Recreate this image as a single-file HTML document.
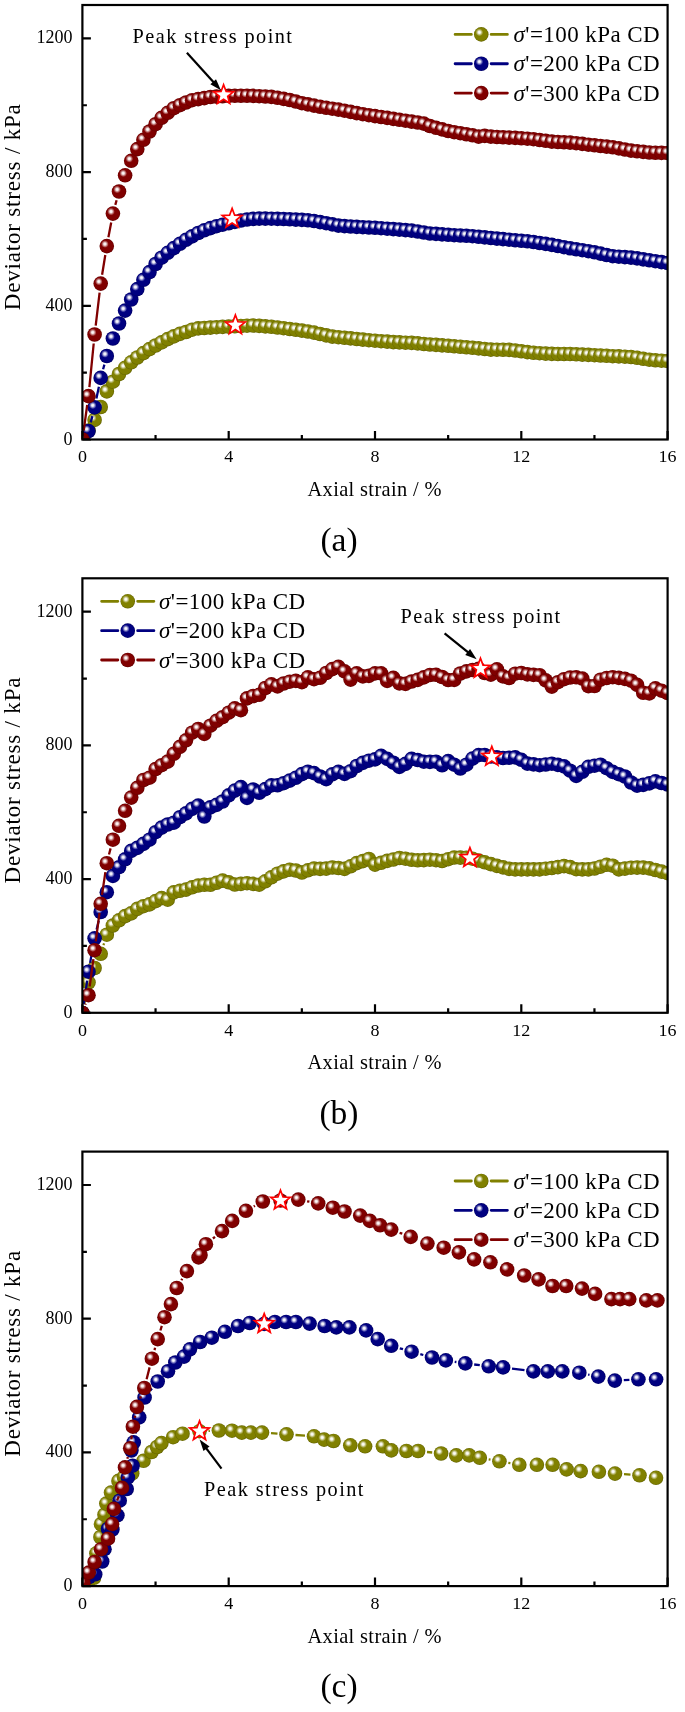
<!DOCTYPE html><html><head><meta charset="utf-8"><style>html,body{margin:0;padding:0;background:#fff;}svg{display:block;will-change:transform}text{font-family:"Liberation Serif",serif;fill:#000}</style></head><body>
<svg width="685" height="1712" viewBox="0 0 685 1712">
<defs>
<radialGradient id="go" cx="0.5" cy="0.5" r="0.5" fx="0.37" fy="0.36"><stop offset="0" stop-color="#a0a030"/><stop offset="0.45" stop-color="#808000"/><stop offset="0.85" stop-color="#808000"/><stop offset="1" stop-color="#626200"/></radialGradient>
<radialGradient id="gb" cx="0.5" cy="0.5" r="0.5" fx="0.37" fy="0.36"><stop offset="0" stop-color="#2a2aa8"/><stop offset="0.45" stop-color="#000080"/><stop offset="0.85" stop-color="#000080"/><stop offset="1" stop-color="#000062"/></radialGradient>
<radialGradient id="gr" cx="0.5" cy="0.5" r="0.5" fx="0.37" fy="0.36"><stop offset="0" stop-color="#a82a2a"/><stop offset="0.45" stop-color="#800000"/><stop offset="0.85" stop-color="#800000"/><stop offset="1" stop-color="#620000"/></radialGradient>
<radialGradient id="hl" cx="0.5" cy="0.5" r="0.5"><stop offset="0" stop-color="#fff" stop-opacity="1"/><stop offset="0.3" stop-color="#fff" stop-opacity="0.9"/><stop offset="0.65" stop-color="#fff" stop-opacity="0.4"/><stop offset="1" stop-color="#fff" stop-opacity="0"/></radialGradient>
<g id="so"><circle r="7.3" fill="url(#go)"/><circle cx="-1.9" cy="-2.1" r="3.8" fill="url(#hl)"/></g>
<g id="sb"><circle r="7.3" fill="url(#gb)"/><circle cx="-1.9" cy="-2.1" r="3.8" fill="url(#hl)"/></g>
<g id="sr"><circle r="7.3" fill="url(#gr)"/><circle cx="-1.9" cy="-2.1" r="3.8" fill="url(#hl)"/></g>
<clipPath id="c0"><rect x="82.4" y="5.0" width="585.2" height="434.5"/></clipPath>
<clipPath id="c1"><rect x="82.4" y="578.3" width="585.2" height="434.5"/></clipPath>
<clipPath id="c2"><rect x="82.4" y="1151.6" width="585.2" height="434.5"/></clipPath>
</defs>
<g clip-path="url(#c0)">
<use href="#so" x="82.4" y="439.5"/>
<use href="#so" x="88.5" y="430.5"/>
<use href="#so" x="94.6" y="419.9"/>
<use href="#so" x="100.7" y="407"/>
<use href="#so" x="106.8" y="391.4"/>
<use href="#so" x="112.9" y="381.7"/>
<use href="#so" x="119" y="374"/>
<use href="#so" x="125.1" y="367.8"/>
<use href="#so" x="131.2" y="362.3"/>
<use href="#so" x="137.3" y="357.5"/>
<use href="#so" x="143.4" y="353.1"/>
<use href="#so" x="149.5" y="349.1"/>
<use href="#so" x="155.6" y="345.5"/>
<use href="#so" x="161.6" y="342.4"/>
<use href="#so" x="167.7" y="339.1"/>
<use href="#so" x="173.8" y="336.4"/>
<use href="#so" x="179.9" y="333.9"/>
<use href="#so" x="186" y="332"/>
<use href="#so" x="192.1" y="329.7"/>
<use href="#so" x="198.2" y="328.4"/>
<use href="#so" x="204.3" y="328"/>
<use href="#so" x="210.4" y="327.6"/>
<use href="#so" x="216.5" y="327.2"/>
<use href="#so" x="222.6" y="326.9"/>
<use href="#so" x="228.7" y="326.6"/>
<use href="#so" x="234.8" y="326.3"/>
<use href="#so" x="240.9" y="326"/>
<use href="#so" x="247" y="325.7"/>
<use href="#so" x="253.1" y="325.5"/>
<use href="#so" x="259.2" y="325.9"/>
<use href="#so" x="265.3" y="326.4"/>
<use href="#so" x="271.4" y="326.8"/>
<use href="#so" x="277.5" y="327.5"/>
<use href="#so" x="283.6" y="328.2"/>
<use href="#so" x="289.7" y="329"/>
<use href="#so" x="295.8" y="329.8"/>
<use href="#so" x="301.9" y="330.6"/>
<use href="#so" x="307.9" y="331.5"/>
<use href="#so" x="314" y="332.6"/>
<use href="#so" x="320.1" y="334"/>
<use href="#so" x="326.2" y="335.4"/>
<use href="#so" x="332.3" y="336.6"/>
<use href="#so" x="338.4" y="337.2"/>
<use href="#so" x="344.5" y="337.8"/>
<use href="#so" x="350.6" y="338.4"/>
<use href="#so" x="356.7" y="339"/>
<use href="#so" x="362.8" y="339.6"/>
<use href="#so" x="368.9" y="340.2"/>
<use href="#so" x="375" y="340.7"/>
<use href="#so" x="381.1" y="341.2"/>
<use href="#so" x="387.2" y="341.6"/>
<use href="#so" x="393.3" y="342.1"/>
<use href="#so" x="399.4" y="342.4"/>
<use href="#so" x="405.5" y="342.7"/>
<use href="#so" x="411.6" y="342.9"/>
<use href="#so" x="417.7" y="343.4"/>
<use href="#so" x="423.8" y="344"/>
<use href="#so" x="429.9" y="344.5"/>
<use href="#so" x="436" y="344.9"/>
<use href="#so" x="442.1" y="345.4"/>
<use href="#so" x="448.2" y="345.8"/>
<use href="#so" x="454.2" y="346.3"/>
<use href="#so" x="460.3" y="346.8"/>
<use href="#so" x="466.4" y="347.3"/>
<use href="#so" x="472.5" y="347.8"/>
<use href="#so" x="478.6" y="348.4"/>
<use href="#so" x="484.7" y="349"/>
<use href="#so" x="490.8" y="349.6"/>
<use href="#so" x="496.9" y="349.7"/>
<use href="#so" x="503" y="349.8"/>
<use href="#so" x="509.1" y="349.9"/>
<use href="#so" x="515.2" y="350.5"/>
<use href="#so" x="521.3" y="351.3"/>
<use href="#so" x="527.4" y="352.1"/>
<use href="#so" x="533.5" y="352.8"/>
<use href="#so" x="539.6" y="353.2"/>
<use href="#so" x="545.7" y="353.6"/>
<use href="#so" x="551.8" y="353.9"/>
<use href="#so" x="557.9" y="354"/>
<use href="#so" x="564" y="354"/>
<use href="#so" x="570.1" y="354"/>
<use href="#so" x="576.2" y="354.3"/>
<use href="#so" x="582.3" y="354.6"/>
<use href="#so" x="588.4" y="354.9"/>
<use href="#so" x="594.5" y="355.2"/>
<use href="#so" x="600.5" y="355.5"/>
<use href="#so" x="606.6" y="355.8"/>
<use href="#so" x="612.7" y="356.2"/>
<use href="#so" x="618.8" y="356.4"/>
<use href="#so" x="624.9" y="356.7"/>
<use href="#so" x="631" y="357"/>
<use href="#so" x="637.1" y="357.8"/>
<use href="#so" x="643.2" y="358.8"/>
<use href="#so" x="649.3" y="359.7"/>
<use href="#so" x="655.4" y="360.3"/>
<use href="#so" x="661.5" y="360.7"/>
<use href="#so" x="667.6" y="361"/>
<path d="M90.7,422.4L92.4,416.1M96.4,398.6L98.9,386.7M103.1,369.2L104.4,364.6" fill="none" stroke="#000080" stroke-width="2.3"/>
<use href="#sb" x="82.4" y="439.5"/>
<use href="#sb" x="88.5" y="431.1"/>
<use href="#sb" x="94.6" y="407.4"/>
<use href="#sb" x="100.7" y="377.9"/>
<use href="#sb" x="106.8" y="356"/>
<use href="#sb" x="112.9" y="338.5"/>
<use href="#sb" x="119" y="323.5"/>
<use href="#sb" x="125.1" y="310.6"/>
<use href="#sb" x="131.2" y="299.5"/>
<use href="#sb" x="137.3" y="289.1"/>
<use href="#sb" x="143.4" y="279.8"/>
<use href="#sb" x="149.5" y="272.1"/>
<use href="#sb" x="155.6" y="264"/>
<use href="#sb" x="161.6" y="257.7"/>
<use href="#sb" x="167.7" y="252.8"/>
<use href="#sb" x="173.8" y="248.1"/>
<use href="#sb" x="179.9" y="243.8"/>
<use href="#sb" x="186" y="239.8"/>
<use href="#sb" x="192.1" y="236.4"/>
<use href="#sb" x="198.2" y="233"/>
<use href="#sb" x="204.3" y="230.3"/>
<use href="#sb" x="210.4" y="228.1"/>
<use href="#sb" x="216.5" y="226.2"/>
<use href="#sb" x="222.6" y="224.7"/>
<use href="#sb" x="228.7" y="223.3"/>
<use href="#sb" x="234.8" y="221.9"/>
<use href="#sb" x="240.9" y="220.5"/>
<use href="#sb" x="247" y="219.5"/>
<use href="#sb" x="253.1" y="218.9"/>
<use href="#sb" x="259.2" y="218.6"/>
<use href="#sb" x="265.3" y="218.6"/>
<use href="#sb" x="271.4" y="218.7"/>
<use href="#sb" x="277.5" y="218.9"/>
<use href="#sb" x="283.6" y="219"/>
<use href="#sb" x="289.7" y="219.3"/>
<use href="#sb" x="295.8" y="219.6"/>
<use href="#sb" x="301.9" y="219.9"/>
<use href="#sb" x="307.9" y="220.3"/>
<use href="#sb" x="314" y="221"/>
<use href="#sb" x="320.1" y="222.1"/>
<use href="#sb" x="326.2" y="223.2"/>
<use href="#sb" x="332.3" y="224.4"/>
<use href="#sb" x="338.4" y="225.6"/>
<use href="#sb" x="344.5" y="226.1"/>
<use href="#sb" x="350.6" y="226.5"/>
<use href="#sb" x="356.7" y="226.9"/>
<use href="#sb" x="362.8" y="227.2"/>
<use href="#sb" x="368.9" y="227.5"/>
<use href="#sb" x="375" y="227.8"/>
<use href="#sb" x="381.1" y="228.2"/>
<use href="#sb" x="387.2" y="228.7"/>
<use href="#sb" x="393.3" y="229.1"/>
<use href="#sb" x="399.4" y="229.6"/>
<use href="#sb" x="405.5" y="230.1"/>
<use href="#sb" x="411.6" y="230.6"/>
<use href="#sb" x="417.7" y="231.5"/>
<use href="#sb" x="423.8" y="232.5"/>
<use href="#sb" x="429.9" y="233.5"/>
<use href="#sb" x="436" y="233.9"/>
<use href="#sb" x="442.1" y="234.4"/>
<use href="#sb" x="448.2" y="234.8"/>
<use href="#sb" x="454.2" y="235.2"/>
<use href="#sb" x="460.3" y="235.5"/>
<use href="#sb" x="466.4" y="235.8"/>
<use href="#sb" x="472.5" y="236.2"/>
<use href="#sb" x="478.6" y="236.8"/>
<use href="#sb" x="484.7" y="237.4"/>
<use href="#sb" x="490.8" y="238"/>
<use href="#sb" x="496.9" y="238.6"/>
<use href="#sb" x="503" y="239.1"/>
<use href="#sb" x="509.1" y="239.7"/>
<use href="#sb" x="515.2" y="240.3"/>
<use href="#sb" x="521.3" y="240.8"/>
<use href="#sb" x="527.4" y="241.3"/>
<use href="#sb" x="533.5" y="242"/>
<use href="#sb" x="539.6" y="243"/>
<use href="#sb" x="545.7" y="243.9"/>
<use href="#sb" x="551.8" y="244.9"/>
<use href="#sb" x="557.9" y="246"/>
<use href="#sb" x="564" y="247.2"/>
<use href="#sb" x="570.1" y="248.3"/>
<use href="#sb" x="576.2" y="249.3"/>
<use href="#sb" x="582.3" y="250.2"/>
<use href="#sb" x="588.4" y="251.2"/>
<use href="#sb" x="594.5" y="252.3"/>
<use href="#sb" x="600.5" y="253.6"/>
<use href="#sb" x="606.6" y="255"/>
<use href="#sb" x="612.7" y="256.2"/>
<use href="#sb" x="618.8" y="256.7"/>
<use href="#sb" x="624.9" y="257.1"/>
<use href="#sb" x="631" y="257.6"/>
<use href="#sb" x="637.1" y="258.4"/>
<use href="#sb" x="643.2" y="259.4"/>
<use href="#sb" x="649.3" y="260.3"/>
<use href="#sb" x="655.4" y="261.2"/>
<use href="#sb" x="661.5" y="262.1"/>
<use href="#sb" x="667.6" y="263"/>
<path d="M83.7,430.6L87.2,405.0M89.4,387.1L93.7,343.5M95.7,325.6L99.6,292.6M102.1,274.7L105.3,255.0M108.4,237.3L111.2,222.5M115.3,204.9L116.6,200.2" fill="none" stroke="#800000" stroke-width="2.3"/>
<use href="#sr" x="82.4" y="439.5"/>
<use href="#sr" x="88.5" y="396.1"/>
<use href="#sr" x="94.6" y="334.5"/>
<use href="#sr" x="100.7" y="283.6"/>
<use href="#sr" x="106.8" y="246.1"/>
<use href="#sr" x="112.9" y="213.6"/>
<use href="#sr" x="119" y="191.5"/>
<use href="#sr" x="125.1" y="175.3"/>
<use href="#sr" x="131.2" y="160.8"/>
<use href="#sr" x="137.3" y="149.1"/>
<use href="#sr" x="143.4" y="139.8"/>
<use href="#sr" x="149.5" y="131.5"/>
<use href="#sr" x="155.6" y="124.2"/>
<use href="#sr" x="161.6" y="117.8"/>
<use href="#sr" x="167.7" y="112.8"/>
<use href="#sr" x="173.8" y="108.2"/>
<use href="#sr" x="179.9" y="105.2"/>
<use href="#sr" x="186" y="102.5"/>
<use href="#sr" x="192.1" y="100.2"/>
<use href="#sr" x="198.2" y="99.1"/>
<use href="#sr" x="204.3" y="98.1"/>
<use href="#sr" x="210.4" y="97"/>
<use href="#sr" x="216.5" y="96.6"/>
<use href="#sr" x="222.6" y="96.3"/>
<use href="#sr" x="228.7" y="95.9"/>
<use href="#sr" x="234.8" y="95.8"/>
<use href="#sr" x="240.9" y="95.8"/>
<use href="#sr" x="247" y="95.8"/>
<use href="#sr" x="253.1" y="95.9"/>
<use href="#sr" x="259.2" y="96.2"/>
<use href="#sr" x="265.3" y="96.5"/>
<use href="#sr" x="271.4" y="96.9"/>
<use href="#sr" x="277.5" y="97.8"/>
<use href="#sr" x="283.6" y="98.9"/>
<use href="#sr" x="289.7" y="100"/>
<use href="#sr" x="295.8" y="101.5"/>
<use href="#sr" x="301.9" y="103.2"/>
<use href="#sr" x="307.9" y="104.4"/>
<use href="#sr" x="314" y="105.6"/>
<use href="#sr" x="320.1" y="106.8"/>
<use href="#sr" x="326.2" y="107.8"/>
<use href="#sr" x="332.3" y="108.7"/>
<use href="#sr" x="338.4" y="109.6"/>
<use href="#sr" x="344.5" y="110.7"/>
<use href="#sr" x="350.6" y="111.9"/>
<use href="#sr" x="356.7" y="113.1"/>
<use href="#sr" x="362.8" y="114.2"/>
<use href="#sr" x="368.9" y="115.2"/>
<use href="#sr" x="375" y="116.1"/>
<use href="#sr" x="381.1" y="117"/>
<use href="#sr" x="387.2" y="117.9"/>
<use href="#sr" x="393.3" y="118.9"/>
<use href="#sr" x="399.4" y="119.8"/>
<use href="#sr" x="405.5" y="120.7"/>
<use href="#sr" x="411.6" y="121.6"/>
<use href="#sr" x="417.7" y="122.5"/>
<use href="#sr" x="423.8" y="123.6"/>
<use href="#sr" x="429.9" y="126"/>
<use href="#sr" x="436" y="127.8"/>
<use href="#sr" x="442.1" y="129.4"/>
<use href="#sr" x="448.2" y="131"/>
<use href="#sr" x="454.2" y="132.2"/>
<use href="#sr" x="460.3" y="133.2"/>
<use href="#sr" x="466.4" y="134.3"/>
<use href="#sr" x="472.5" y="135.3"/>
<use href="#sr" x="478.6" y="136.6"/>
<use href="#sr" x="484.7" y="135.9"/>
<use href="#sr" x="490.8" y="136.6"/>
<use href="#sr" x="496.9" y="137"/>
<use href="#sr" x="503" y="137.3"/>
<use href="#sr" x="509.1" y="137.6"/>
<use href="#sr" x="515.2" y="137.9"/>
<use href="#sr" x="521.3" y="138.3"/>
<use href="#sr" x="527.4" y="138.7"/>
<use href="#sr" x="533.5" y="139.2"/>
<use href="#sr" x="539.6" y="140"/>
<use href="#sr" x="545.7" y="140.8"/>
<use href="#sr" x="551.8" y="141.6"/>
<use href="#sr" x="557.9" y="142"/>
<use href="#sr" x="564" y="142.3"/>
<use href="#sr" x="570.1" y="142.6"/>
<use href="#sr" x="576.2" y="143.2"/>
<use href="#sr" x="582.3" y="143.9"/>
<use href="#sr" x="588.4" y="144.7"/>
<use href="#sr" x="594.5" y="145.3"/>
<use href="#sr" x="600.5" y="146"/>
<use href="#sr" x="606.6" y="146.6"/>
<use href="#sr" x="612.7" y="147.3"/>
<use href="#sr" x="618.8" y="148.4"/>
<use href="#sr" x="624.9" y="149.5"/>
<use href="#sr" x="631" y="150.6"/>
<use href="#sr" x="637.1" y="151.3"/>
<use href="#sr" x="643.2" y="151.9"/>
<use href="#sr" x="649.3" y="152.5"/>
<use href="#sr" x="655.4" y="152.8"/>
<use href="#sr" x="661.5" y="152.9"/>
<use href="#sr" x="667.6" y="153"/>
</g>
<g clip-path="url(#c1)">
<path d="M84.2,1004.2L86.7,991.3M103.4,945.2L104.1,943.3" fill="none" stroke="#808000" stroke-width="2.3"/>
<use href="#so" x="82.4" y="1013"/>
<use href="#so" x="88.5" y="982.5"/>
<use href="#so" x="94.6" y="968"/>
<use href="#so" x="100.7" y="953.8"/>
<use href="#so" x="106.8" y="934.7"/>
<use href="#so" x="112.9" y="925.5"/>
<use href="#so" x="119" y="920.3"/>
<use href="#so" x="125.1" y="916.1"/>
<use href="#so" x="131.2" y="913.4"/>
<use href="#so" x="137.3" y="908.9"/>
<use href="#so" x="143.4" y="906.2"/>
<use href="#so" x="149.5" y="904.4"/>
<use href="#so" x="155.6" y="901.1"/>
<use href="#so" x="161.6" y="898.1"/>
<use href="#so" x="167.7" y="899.7"/>
<use href="#so" x="173.8" y="892.4"/>
<use href="#so" x="179.9" y="890.8"/>
<use href="#so" x="186" y="889.6"/>
<use href="#so" x="192.1" y="887.3"/>
<use href="#so" x="198.2" y="885.5"/>
<use href="#so" x="204.3" y="884.8"/>
<use href="#so" x="210.4" y="884.8"/>
<use href="#so" x="216.5" y="882.8"/>
<use href="#so" x="222.6" y="880.6"/>
<use href="#so" x="228.7" y="882.3"/>
<use href="#so" x="234.8" y="884.5"/>
<use href="#so" x="240.9" y="883.9"/>
<use href="#so" x="247" y="883.2"/>
<use href="#so" x="253.1" y="883.9"/>
<use href="#so" x="259.2" y="884.7"/>
<use href="#so" x="265.3" y="881.3"/>
<use href="#so" x="271.4" y="877.3"/>
<use href="#so" x="277.5" y="873.7"/>
<use href="#so" x="283.6" y="871.4"/>
<use href="#so" x="289.7" y="869.7"/>
<use href="#so" x="295.8" y="870.5"/>
<use href="#so" x="301.9" y="872.5"/>
<use href="#so" x="307.9" y="870.3"/>
<use href="#so" x="314" y="868.5"/>
<use href="#so" x="320.1" y="868.9"/>
<use href="#so" x="326.2" y="868.6"/>
<use href="#so" x="332.3" y="867.5"/>
<use href="#so" x="338.4" y="868"/>
<use href="#so" x="344.5" y="868.9"/>
<use href="#so" x="350.6" y="866.3"/>
<use href="#so" x="356.7" y="863.1"/>
<use href="#so" x="362.8" y="861.1"/>
<use href="#so" x="368.9" y="859"/>
<use href="#so" x="375" y="864.6"/>
<use href="#so" x="381.1" y="862.8"/>
<use href="#so" x="387.2" y="860.9"/>
<use href="#so" x="393.3" y="859.5"/>
<use href="#so" x="399.4" y="858"/>
<use href="#so" x="405.5" y="858.7"/>
<use href="#so" x="411.6" y="859.8"/>
<use href="#so" x="417.7" y="860.3"/>
<use href="#so" x="423.8" y="860.1"/>
<use href="#so" x="429.9" y="859.7"/>
<use href="#so" x="436" y="860.2"/>
<use href="#so" x="442.1" y="861"/>
<use href="#so" x="448.2" y="859.2"/>
<use href="#so" x="454.2" y="857.5"/>
<use href="#so" x="460.3" y="857.6"/>
<use href="#so" x="466.4" y="857.8"/>
<use href="#so" x="472.5" y="858.7"/>
<use href="#so" x="478.6" y="860.5"/>
<use href="#so" x="484.7" y="862.3"/>
<use href="#so" x="490.8" y="864.1"/>
<use href="#so" x="496.9" y="865.9"/>
<use href="#so" x="503" y="867.4"/>
<use href="#so" x="509.1" y="868.9"/>
<use href="#so" x="515.2" y="869.4"/>
<use href="#so" x="521.3" y="869.4"/>
<use href="#so" x="527.4" y="869.4"/>
<use href="#so" x="533.5" y="869.4"/>
<use href="#so" x="539.6" y="869.4"/>
<use href="#so" x="545.7" y="868.7"/>
<use href="#so" x="551.8" y="868"/>
<use href="#so" x="557.9" y="867.1"/>
<use href="#so" x="564" y="866.1"/>
<use href="#so" x="570.1" y="867.1"/>
<use href="#so" x="576.2" y="869.2"/>
<use href="#so" x="582.3" y="869.4"/>
<use href="#so" x="588.4" y="869.4"/>
<use href="#so" x="594.5" y="868.5"/>
<use href="#so" x="600.5" y="866.7"/>
<use href="#so" x="606.6" y="864.8"/>
<use href="#so" x="612.7" y="865.7"/>
<use href="#so" x="618.8" y="869.4"/>
<use href="#so" x="624.9" y="868.6"/>
<use href="#so" x="631" y="867.7"/>
<use href="#so" x="637.1" y="867.6"/>
<use href="#so" x="643.2" y="867.6"/>
<use href="#so" x="649.3" y="868.4"/>
<use href="#so" x="655.4" y="870"/>
<use href="#so" x="661.5" y="871.6"/>
<use href="#so" x="667.6" y="873.1"/>
<path d="M83.7,1004.1L87.2,980.6M90.1,962.9L93.0,947.1M96.6,929.5L98.7,920.8M103.3,903.4L104.1,900.8" fill="none" stroke="#000080" stroke-width="2.3"/>
<use href="#sb" x="82.4" y="1013"/>
<use href="#sb" x="88.5" y="971.7"/>
<use href="#sb" x="94.6" y="938.3"/>
<use href="#sb" x="100.7" y="912"/>
<use href="#sb" x="106.8" y="892.2"/>
<use href="#sb" x="112.9" y="875.9"/>
<use href="#sb" x="119" y="867.2"/>
<use href="#sb" x="125.1" y="859.3"/>
<use href="#sb" x="131.2" y="850.9"/>
<use href="#sb" x="137.3" y="847.9"/>
<use href="#sb" x="143.4" y="843.9"/>
<use href="#sb" x="149.5" y="839.7"/>
<use href="#sb" x="155.6" y="832.2"/>
<use href="#sb" x="161.6" y="827.6"/>
<use href="#sb" x="167.7" y="824.5"/>
<use href="#sb" x="173.8" y="822.7"/>
<use href="#sb" x="179.9" y="817.2"/>
<use href="#sb" x="186" y="813.4"/>
<use href="#sb" x="192.1" y="808.9"/>
<use href="#sb" x="198.2" y="805.6"/>
<use href="#sb" x="204.3" y="816.5"/>
<use href="#sb" x="210.4" y="807.4"/>
<use href="#sb" x="216.5" y="804.9"/>
<use href="#sb" x="222.6" y="801.5"/>
<use href="#sb" x="228.7" y="795.4"/>
<use href="#sb" x="234.8" y="790.6"/>
<use href="#sb" x="240.9" y="787.1"/>
<use href="#sb" x="247" y="797.9"/>
<use href="#sb" x="253.1" y="789.5"/>
<use href="#sb" x="259.2" y="792.8"/>
<use href="#sb" x="265.3" y="789.1"/>
<use href="#sb" x="271.4" y="785.4"/>
<use href="#sb" x="277.5" y="785.3"/>
<use href="#sb" x="283.6" y="783.2"/>
<use href="#sb" x="289.7" y="780.6"/>
<use href="#sb" x="295.8" y="777.8"/>
<use href="#sb" x="301.9" y="774.1"/>
<use href="#sb" x="307.9" y="771.7"/>
<use href="#sb" x="314" y="773.1"/>
<use href="#sb" x="320.1" y="776.5"/>
<use href="#sb" x="326.2" y="779.2"/>
<use href="#sb" x="332.3" y="774.3"/>
<use href="#sb" x="338.4" y="771.8"/>
<use href="#sb" x="344.5" y="773.9"/>
<use href="#sb" x="350.6" y="771.2"/>
<use href="#sb" x="356.7" y="766"/>
<use href="#sb" x="362.8" y="762.9"/>
<use href="#sb" x="368.9" y="760.7"/>
<use href="#sb" x="375" y="759.4"/>
<use href="#sb" x="381.1" y="755.8"/>
<use href="#sb" x="387.2" y="758.9"/>
<use href="#sb" x="393.3" y="762.7"/>
<use href="#sb" x="399.4" y="766.9"/>
<use href="#sb" x="405.5" y="763.9"/>
<use href="#sb" x="411.6" y="758.9"/>
<use href="#sb" x="417.7" y="760"/>
<use href="#sb" x="423.8" y="761.7"/>
<use href="#sb" x="429.9" y="761.9"/>
<use href="#sb" x="436" y="761.7"/>
<use href="#sb" x="442.1" y="765.3"/>
<use href="#sb" x="448.2" y="761.1"/>
<use href="#sb" x="454.2" y="764.7"/>
<use href="#sb" x="460.3" y="768.5"/>
<use href="#sb" x="466.4" y="764.7"/>
<use href="#sb" x="472.5" y="758.6"/>
<use href="#sb" x="478.6" y="755.1"/>
<use href="#sb" x="484.7" y="755"/>
<use href="#sb" x="490.8" y="756.5"/>
<use href="#sb" x="496.9" y="757.3"/>
<use href="#sb" x="503" y="758"/>
<use href="#sb" x="509.1" y="757.8"/>
<use href="#sb" x="515.2" y="757.4"/>
<use href="#sb" x="521.3" y="759.8"/>
<use href="#sb" x="527.4" y="763.6"/>
<use href="#sb" x="533.5" y="764.4"/>
<use href="#sb" x="539.6" y="765.2"/>
<use href="#sb" x="545.7" y="764.5"/>
<use href="#sb" x="551.8" y="763.7"/>
<use href="#sb" x="557.9" y="764.9"/>
<use href="#sb" x="564" y="766.4"/>
<use href="#sb" x="570.1" y="770.7"/>
<use href="#sb" x="576.2" y="775.9"/>
<use href="#sb" x="582.3" y="771.8"/>
<use href="#sb" x="588.4" y="766.8"/>
<use href="#sb" x="594.5" y="765.7"/>
<use href="#sb" x="600.5" y="764.7"/>
<use href="#sb" x="606.6" y="768.2"/>
<use href="#sb" x="612.7" y="771.9"/>
<use href="#sb" x="618.8" y="774.2"/>
<use href="#sb" x="624.9" y="776.5"/>
<use href="#sb" x="631" y="782.5"/>
<use href="#sb" x="637.1" y="785.7"/>
<use href="#sb" x="643.2" y="784.9"/>
<use href="#sb" x="649.3" y="783.4"/>
<use href="#sb" x="655.4" y="781.3"/>
<use href="#sb" x="661.5" y="783"/>
<use href="#sb" x="667.6" y="784.5"/>
<path d="M85.3,1004.5L85.6,1003.7M89.7,986.3L93.4,959.2M95.8,941.3L99.5,912.8M102.0,894.9L105.4,872.1M109.0,854.5L110.6,848.4" fill="none" stroke="#800000" stroke-width="2.3"/>
<use href="#sr" x="82.4" y="1013"/>
<use href="#sr" x="88.5" y="995.2"/>
<use href="#sr" x="94.6" y="950.2"/>
<use href="#sr" x="100.7" y="903.8"/>
<use href="#sr" x="106.8" y="863.2"/>
<use href="#sr" x="112.9" y="839.7"/>
<use href="#sr" x="119" y="825.8"/>
<use href="#sr" x="125.1" y="810.8"/>
<use href="#sr" x="131.2" y="797.6"/>
<use href="#sr" x="137.3" y="787.8"/>
<use href="#sr" x="143.4" y="780"/>
<use href="#sr" x="149.5" y="777.7"/>
<use href="#sr" x="155.6" y="769.1"/>
<use href="#sr" x="161.6" y="765.2"/>
<use href="#sr" x="167.7" y="761.6"/>
<use href="#sr" x="173.8" y="753.8"/>
<use href="#sr" x="179.9" y="746.9"/>
<use href="#sr" x="186" y="740.3"/>
<use href="#sr" x="192.1" y="732.7"/>
<use href="#sr" x="198.2" y="729"/>
<use href="#sr" x="204.3" y="733.9"/>
<use href="#sr" x="210.4" y="725.7"/>
<use href="#sr" x="216.5" y="720.8"/>
<use href="#sr" x="222.6" y="717.2"/>
<use href="#sr" x="228.7" y="712.7"/>
<use href="#sr" x="234.8" y="708.3"/>
<use href="#sr" x="240.9" y="710.2"/>
<use href="#sr" x="247" y="698.4"/>
<use href="#sr" x="253.1" y="696"/>
<use href="#sr" x="259.2" y="694.8"/>
<use href="#sr" x="265.3" y="688"/>
<use href="#sr" x="271.4" y="684.3"/>
<use href="#sr" x="277.5" y="686.4"/>
<use href="#sr" x="283.6" y="683.5"/>
<use href="#sr" x="289.7" y="681.7"/>
<use href="#sr" x="295.8" y="680.9"/>
<use href="#sr" x="301.9" y="682.1"/>
<use href="#sr" x="307.9" y="677.3"/>
<use href="#sr" x="314" y="679.2"/>
<use href="#sr" x="320.1" y="677.8"/>
<use href="#sr" x="326.2" y="673"/>
<use href="#sr" x="332.3" y="669.1"/>
<use href="#sr" x="338.4" y="666.8"/>
<use href="#sr" x="344.5" y="671.4"/>
<use href="#sr" x="350.6" y="679.6"/>
<use href="#sr" x="356.7" y="673.3"/>
<use href="#sr" x="362.8" y="676.4"/>
<use href="#sr" x="368.9" y="675.9"/>
<use href="#sr" x="375" y="673.4"/>
<use href="#sr" x="381.1" y="673.4"/>
<use href="#sr" x="387.2" y="680.9"/>
<use href="#sr" x="393.3" y="677.9"/>
<use href="#sr" x="399.4" y="683.4"/>
<use href="#sr" x="405.5" y="683.9"/>
<use href="#sr" x="411.6" y="681.5"/>
<use href="#sr" x="417.7" y="679.9"/>
<use href="#sr" x="423.8" y="677.4"/>
<use href="#sr" x="429.9" y="675"/>
<use href="#sr" x="436" y="674.8"/>
<use href="#sr" x="442.1" y="677"/>
<use href="#sr" x="448.2" y="680"/>
<use href="#sr" x="454.2" y="679.9"/>
<use href="#sr" x="460.3" y="673.5"/>
<use href="#sr" x="466.4" y="671.4"/>
<use href="#sr" x="472.5" y="670"/>
<use href="#sr" x="478.6" y="668.9"/>
<use href="#sr" x="484.7" y="673"/>
<use href="#sr" x="490.8" y="674.7"/>
<use href="#sr" x="496.9" y="669.3"/>
<use href="#sr" x="503" y="676.4"/>
<use href="#sr" x="509.1" y="678"/>
<use href="#sr" x="515.2" y="673.7"/>
<use href="#sr" x="521.3" y="673"/>
<use href="#sr" x="527.4" y="674.4"/>
<use href="#sr" x="533.5" y="674.9"/>
<use href="#sr" x="539.6" y="675.2"/>
<use href="#sr" x="545.7" y="680.4"/>
<use href="#sr" x="551.8" y="686.6"/>
<use href="#sr" x="557.9" y="682.2"/>
<use href="#sr" x="564" y="679.2"/>
<use href="#sr" x="570.1" y="677.5"/>
<use href="#sr" x="576.2" y="677.3"/>
<use href="#sr" x="582.3" y="678.6"/>
<use href="#sr" x="588.4" y="686.1"/>
<use href="#sr" x="594.5" y="686"/>
<use href="#sr" x="600.5" y="679.7"/>
<use href="#sr" x="606.6" y="678"/>
<use href="#sr" x="612.7" y="677.2"/>
<use href="#sr" x="618.8" y="677.9"/>
<use href="#sr" x="624.9" y="678.9"/>
<use href="#sr" x="631" y="680.7"/>
<use href="#sr" x="637.1" y="684.9"/>
<use href="#sr" x="643.2" y="692.8"/>
<use href="#sr" x="649.3" y="693.4"/>
<use href="#sr" x="655.4" y="688.3"/>
<use href="#sr" x="661.5" y="690.7"/>
<use href="#sr" x="667.6" y="693"/>
</g>
<g clip-path="url(#c2)">
<path d="M94.9,1568.8L95.5,1562.3M208.5,1430.9L209.9,1430.8M271.0,1433.2L277.5,1433.7M295.5,1435.0L305.0,1435.6M427.0,1452.0L432.2,1452.5M488.7,1459.4L490.5,1459.7M508.3,1462.9L510.4,1463.2M624.0,1474.2L630.5,1474.7" fill="none" stroke="#808000" stroke-width="2.3"/>
<use href="#so" x="82.4" y="1586.5"/>
<use href="#so" x="88" y="1582"/>
<use href="#so" x="94" y="1577.8"/>
<use href="#so" x="96.4" y="1553.3"/>
<use href="#so" x="100.4" y="1537"/>
<use href="#so" x="101" y="1524.1"/>
<use href="#so" x="104.5" y="1514.7"/>
<use href="#so" x="106.3" y="1503.6"/>
<use href="#so" x="111" y="1492.6"/>
<use href="#so" x="118.5" y="1480.9"/>
<use href="#so" x="124" y="1477"/>
<use href="#so" x="132.2" y="1473.4"/>
<use href="#so" x="143.5" y="1460.8"/>
<use href="#so" x="151.5" y="1452"/>
<use href="#so" x="157.1" y="1447"/>
<use href="#so" x="161.4" y="1443.1"/>
<use href="#so" x="173.1" y="1437.2"/>
<use href="#so" x="182.5" y="1433.7"/>
<use href="#so" x="199.5" y="1431.2"/>
<use href="#so" x="218.9" y="1430.5"/>
<use href="#so" x="232" y="1430.7"/>
<use href="#so" x="241.8" y="1432.6"/>
<use href="#so" x="250.9" y="1432.6"/>
<use href="#so" x="262" y="1432.6"/>
<use href="#so" x="286.5" y="1434.3"/>
<use href="#so" x="314" y="1436.3"/>
<use href="#so" x="324.1" y="1439.6"/>
<use href="#so" x="333.5" y="1441"/>
<use href="#so" x="350.3" y="1445.3"/>
<use href="#so" x="365.1" y="1446.3"/>
<use href="#so" x="382.9" y="1446.3"/>
<use href="#so" x="391.3" y="1450.4"/>
<use href="#so" x="406.4" y="1451"/>
<use href="#so" x="418.1" y="1451"/>
<use href="#so" x="441.1" y="1453.5"/>
<use href="#so" x="456.3" y="1455.4"/>
<use href="#so" x="469.2" y="1455.4"/>
<use href="#so" x="479.8" y="1457.8"/>
<use href="#so" x="499.4" y="1461.3"/>
<use href="#so" x="519.3" y="1464.8"/>
<use href="#so" x="536.9" y="1464.8"/>
<use href="#so" x="552.6" y="1464.8"/>
<use href="#so" x="566.6" y="1469.4"/>
<use href="#so" x="580.7" y="1471.1"/>
<use href="#so" x="598.9" y="1471.8"/>
<use href="#so" x="615" y="1473.6"/>
<use href="#so" x="639.5" y="1475.3"/>
<use href="#so" x="656" y="1477.8"/>
<path d="M106.0,1540.3L106.5,1537.7M135.6,1433.5L137.3,1426.2M141.6,1408.7L142.2,1406.2M150.3,1390.5L152.0,1388.5M399.8,1348.3L403.0,1349.2M420.3,1354.2L423.3,1355.0M454.7,1361.8L456.4,1362.0M474.2,1364.5L479.8,1365.2M512.0,1368.6L524.5,1370.2M588.1,1374.5L589.5,1374.8M623.8,1380.1L629.4,1379.8" fill="none" stroke="#000080" stroke-width="2.3"/>
<use href="#sb" x="82.4" y="1586.5"/>
<use href="#sb" x="89" y="1577"/>
<use href="#sb" x="95.2" y="1574.3"/>
<use href="#sb" x="102.2" y="1561.5"/>
<use href="#sb" x="104.5" y="1549.2"/>
<use href="#sb" x="108" y="1528.8"/>
<use href="#sb" x="112.4" y="1529.5"/>
<use href="#sb" x="117.4" y="1515.3"/>
<use href="#sb" x="119.7" y="1500.7"/>
<use href="#sb" x="126.7" y="1489"/>
<use href="#sb" x="127.9" y="1477.4"/>
<use href="#sb" x="132.6" y="1465.7"/>
<use href="#sb" x="131.4" y="1450.5"/>
<use href="#sb" x="133.7" y="1442.3"/>
<use href="#sb" x="139.2" y="1417.4"/>
<use href="#sb" x="144.6" y="1397.5"/>
<use href="#sb" x="157.7" y="1381.5"/>
<use href="#sb" x="168" y="1371.2"/>
<use href="#sb" x="175.3" y="1362.5"/>
<use href="#sb" x="184" y="1356.6"/>
<use href="#sb" x="189.9" y="1349.3"/>
<use href="#sb" x="200.1" y="1342"/>
<use href="#sb" x="211.8" y="1337.7"/>
<use href="#sb" x="224.9" y="1331.8"/>
<use href="#sb" x="238" y="1326"/>
<use href="#sb" x="249.7" y="1323"/>
<use href="#sb" x="264.2" y="1323.9"/>
<use href="#sb" x="274.9" y="1322"/>
<use href="#sb" x="286.1" y="1322"/>
<use href="#sb" x="295.9" y="1322"/>
<use href="#sb" x="309.6" y="1323.6"/>
<use href="#sb" x="324.6" y="1326"/>
<use href="#sb" x="336.3" y="1327.4"/>
<use href="#sb" x="349.4" y="1327.4"/>
<use href="#sb" x="366.1" y="1330.4"/>
<use href="#sb" x="377.7" y="1339.1"/>
<use href="#sb" x="391.2" y="1345.8"/>
<use href="#sb" x="411.6" y="1351.7"/>
<use href="#sb" x="432" y="1357.5"/>
<use href="#sb" x="445.8" y="1360.4"/>
<use href="#sb" x="465.3" y="1363.4"/>
<use href="#sb" x="488.7" y="1366.3"/>
<use href="#sb" x="503.1" y="1367.4"/>
<use href="#sb" x="533.4" y="1371.4"/>
<use href="#sb" x="547.8" y="1371.4"/>
<use href="#sb" x="562.3" y="1371.4"/>
<use href="#sb" x="579.3" y="1372.7"/>
<use href="#sb" x="598.3" y="1376.6"/>
<use href="#sb" x="614.8" y="1380.6"/>
<use href="#sb" x="638.4" y="1379.3"/>
<use href="#sb" x="656.1" y="1379.3"/>
<path d="M117.1,1500.5L118.8,1496.3M123.3,1479.0L123.7,1476.3M127.4,1458.7L127.8,1456.9M131.3,1439.3L131.8,1435.6M134.7,1417.9L135.1,1415.7M140.2,1398.5L141.0,1396.4M146.6,1379.3L149.6,1367.4M154.5,1350.1L155.1,1347.7M160.4,1330.5L161.8,1325.8M181.4,1280.3L182.2,1278.8M212.9,1238.5L215.0,1236.8M253.8,1206.5L254.9,1205.8M307.1,1201.3L309.4,1201.7M399.6,1232.8L402.3,1233.7" fill="none" stroke="#800000" stroke-width="2.3"/>
<use href="#sr" x="82.4" y="1586.5"/>
<use href="#sr" x="83.5" y="1583.1"/>
<use href="#sr" x="88.8" y="1572.6"/>
<use href="#sr" x="94.6" y="1562"/>
<use href="#sr" x="101" y="1549.2"/>
<use href="#sr" x="108" y="1538.7"/>
<use href="#sr" x="112.1" y="1524.1"/>
<use href="#sr" x="113.9" y="1508.9"/>
<use href="#sr" x="122" y="1487.9"/>
<use href="#sr" x="125" y="1467.4"/>
<use href="#sr" x="130.2" y="1448.2"/>
<use href="#sr" x="132.9" y="1426.7"/>
<use href="#sr" x="136.9" y="1406.9"/>
<use href="#sr" x="144.3" y="1388"/>
<use href="#sr" x="151.9" y="1358.7"/>
<use href="#sr" x="157.7" y="1339.1"/>
<use href="#sr" x="164.5" y="1317.2"/>
<use href="#sr" x="170.9" y="1304.1"/>
<use href="#sr" x="176.7" y="1288"/>
<use href="#sr" x="186.9" y="1271.1"/>
<use href="#sr" x="198.6" y="1257.4"/>
<use href="#sr" x="200.5" y="1255"/>
<use href="#sr" x="205.9" y="1244.2"/>
<use href="#sr" x="222" y="1231.1"/>
<use href="#sr" x="232.2" y="1220.9"/>
<use href="#sr" x="245.9" y="1210.8"/>
<use href="#sr" x="262.8" y="1201.5"/>
<use href="#sr" x="280.5" y="1200.5"/>
<use href="#sr" x="298.3" y="1199.6"/>
<use href="#sr" x="318.2" y="1203.4"/>
<use href="#sr" x="332.8" y="1207.7"/>
<use href="#sr" x="344.5" y="1211.5"/>
<use href="#sr" x="360.2" y="1215.6"/>
<use href="#sr" x="369.9" y="1220.9"/>
<use href="#sr" x="380.1" y="1225.3"/>
<use href="#sr" x="391.2" y="1229.6"/>
<use href="#sr" x="410.7" y="1236.9"/>
<use href="#sr" x="427.4" y="1243.6"/>
<use href="#sr" x="443.7" y="1247.7"/>
<use href="#sr" x="458.9" y="1252.4"/>
<use href="#sr" x="474.1" y="1259.4"/>
<use href="#sr" x="490.4" y="1262.3"/>
<use href="#sr" x="507.1" y="1269.4"/>
<use href="#sr" x="524.2" y="1275.5"/>
<use href="#sr" x="538.6" y="1279.4"/>
<use href="#sr" x="552.5" y="1286"/>
<use href="#sr" x="566.2" y="1286"/>
<use href="#sr" x="582" y="1288.6"/>
<use href="#sr" x="595.1" y="1293.9"/>
<use href="#sr" x="611.4" y="1299.1"/>
<use href="#sr" x="620.1" y="1299.1"/>
<use href="#sr" x="629.3" y="1299.1"/>
<use href="#sr" x="646.3" y="1300.4"/>
<use href="#sr" x="657.4" y="1300.4"/>
</g>
<path d="M223.60,84.70 L226.14,91.50 L233.40,91.82 L227.71,96.34 L229.65,103.33 L223.60,99.33 L217.55,103.33 L219.49,96.34 L213.80,91.82 L221.06,91.50 Z" fill="#fff" stroke="#f00" stroke-width="1.7" stroke-linejoin="miter"/>
<path d="M232.10,208.40 L234.64,215.20 L241.90,215.52 L236.21,220.04 L238.15,227.03 L232.10,223.03 L226.05,227.03 L227.99,220.04 L222.30,215.52 L229.56,215.20 Z" fill="#fff" stroke="#f00" stroke-width="1.7" stroke-linejoin="miter"/>
<path d="M235.40,315.00 L237.94,321.80 L245.20,322.12 L239.51,326.64 L241.45,333.63 L235.40,329.63 L229.35,333.63 L231.29,326.64 L225.60,322.12 L232.86,321.80 Z" fill="#fff" stroke="#f00" stroke-width="1.7" stroke-linejoin="miter"/>
<path d="M480.50,658.30 L483.04,665.10 L490.30,665.42 L484.61,669.94 L486.55,676.93 L480.50,672.93 L474.45,676.93 L476.39,669.94 L470.70,665.42 L477.96,665.10 Z" fill="#fff" stroke="#f00" stroke-width="1.7" stroke-linejoin="miter"/>
<path d="M491.80,746.40 L494.34,753.20 L501.60,753.52 L495.91,758.04 L497.85,765.03 L491.80,761.03 L485.75,765.03 L487.69,758.04 L482.00,753.52 L489.26,753.20 Z" fill="#fff" stroke="#f00" stroke-width="1.7" stroke-linejoin="miter"/>
<path d="M469.90,847.60 L472.44,854.40 L479.70,854.72 L474.01,859.24 L475.95,866.23 L469.90,862.23 L463.85,866.23 L465.79,859.24 L460.10,854.72 L467.36,854.40 Z" fill="#fff" stroke="#f00" stroke-width="1.7" stroke-linejoin="miter"/>
<path d="M280.50,1190.20 L283.04,1197.00 L290.30,1197.32 L284.61,1201.84 L286.55,1208.83 L280.50,1204.83 L274.45,1208.83 L276.39,1201.84 L270.70,1197.32 L277.96,1197.00 Z" fill="#fff" stroke="#f00" stroke-width="1.7" stroke-linejoin="miter"/>
<path d="M264.20,1313.60 L266.74,1320.40 L274.00,1320.72 L268.31,1325.24 L270.25,1332.23 L264.20,1328.23 L258.15,1332.23 L260.09,1325.24 L254.40,1320.72 L261.66,1320.40 Z" fill="#fff" stroke="#f00" stroke-width="1.7" stroke-linejoin="miter"/>
<path d="M199.50,1420.90 L202.04,1427.70 L209.30,1428.02 L203.61,1432.54 L205.55,1439.53 L199.50,1435.53 L193.45,1439.53 L195.39,1432.54 L189.70,1428.02 L196.96,1427.70 Z" fill="#fff" stroke="#f00" stroke-width="1.7" stroke-linejoin="miter"/>
<rect x="82.4" y="5.0" width="585.2" height="434.5" fill="none" stroke="#000" stroke-width="2.2"/>
<path d="M82.40,439.5 V431.00 M155.55,439.5 V435.00 M228.70,439.5 V431.00 M301.85,439.5 V435.00 M375.00,439.5 V431.00 M448.15,439.5 V435.00 M521.30,439.5 V431.00 M594.45,439.5 V435.00 M667.60,439.5 V431.00 M82.4,439.50 H90.90 M82.4,372.65 H86.90 M82.4,305.81 H90.90 M82.4,238.96 H86.90 M82.4,172.12 H90.90 M82.4,105.27 H86.90 M82.4,38.42 H90.90" stroke="#000" stroke-width="2.2" fill="none"/>
<text x="82.40" y="462.20" font-size="17.3" text-anchor="middle" textLength="9.00" lengthAdjust="spacingAndGlyphs">0</text>
<text x="228.70" y="462.20" font-size="17.3" text-anchor="middle" textLength="9.00" lengthAdjust="spacingAndGlyphs">4</text>
<text x="375.00" y="462.20" font-size="17.3" text-anchor="middle" textLength="9.00" lengthAdjust="spacingAndGlyphs">8</text>
<text x="521.30" y="462.20" font-size="17.3" text-anchor="middle" textLength="18.00" lengthAdjust="spacingAndGlyphs">12</text>
<text x="667.60" y="462.20" font-size="17.3" text-anchor="middle" textLength="18.00" lengthAdjust="spacingAndGlyphs">16</text>
<text x="72.6" y="444.50" font-size="18" text-anchor="end" textLength="9.00" lengthAdjust="spacingAndGlyphs">0</text>
<text x="72.6" y="310.81" font-size="18" text-anchor="end" textLength="27.00" lengthAdjust="spacingAndGlyphs">400</text>
<text x="72.6" y="177.12" font-size="18" text-anchor="end" textLength="27.00" lengthAdjust="spacingAndGlyphs">800</text>
<text x="72.6" y="43.42" font-size="18" text-anchor="end" textLength="36.00" lengthAdjust="spacingAndGlyphs">1200</text>
<text x="374.5" y="496.10" font-size="20.4" text-anchor="middle" textLength="134" lengthAdjust="spacing">Axial strain / %</text>
<text transform="translate(20,207.20) rotate(-90)" x="0" y="0" font-size="23" text-anchor="middle" textLength="206" lengthAdjust="spacing">Deviator stress / kPa</text>
<text x="339" y="550.70" font-size="33.5" text-anchor="middle">(a)</text>
<rect x="82.4" y="578.3" width="585.2" height="434.5" fill="none" stroke="#000" stroke-width="2.2"/>
<path d="M82.40,1012.8 V1004.30 M155.55,1012.8 V1008.30 M228.70,1012.8 V1004.30 M301.85,1012.8 V1008.30 M375.00,1012.8 V1004.30 M448.15,1012.8 V1008.30 M521.30,1012.8 V1004.30 M594.45,1012.8 V1008.30 M667.60,1012.8 V1004.30 M82.4,1012.80 H90.90 M82.4,945.95 H86.90 M82.4,879.11 H90.90 M82.4,812.26 H86.90 M82.4,745.42 H90.90 M82.4,678.57 H86.90 M82.4,611.72 H90.90" stroke="#000" stroke-width="2.2" fill="none"/>
<text x="82.40" y="1035.50" font-size="17.3" text-anchor="middle" textLength="9.00" lengthAdjust="spacingAndGlyphs">0</text>
<text x="228.70" y="1035.50" font-size="17.3" text-anchor="middle" textLength="9.00" lengthAdjust="spacingAndGlyphs">4</text>
<text x="375.00" y="1035.50" font-size="17.3" text-anchor="middle" textLength="9.00" lengthAdjust="spacingAndGlyphs">8</text>
<text x="521.30" y="1035.50" font-size="17.3" text-anchor="middle" textLength="18.00" lengthAdjust="spacingAndGlyphs">12</text>
<text x="667.60" y="1035.50" font-size="17.3" text-anchor="middle" textLength="18.00" lengthAdjust="spacingAndGlyphs">16</text>
<text x="72.6" y="1017.80" font-size="18" text-anchor="end" textLength="9.00" lengthAdjust="spacingAndGlyphs">0</text>
<text x="72.6" y="884.11" font-size="18" text-anchor="end" textLength="27.00" lengthAdjust="spacingAndGlyphs">400</text>
<text x="72.6" y="750.42" font-size="18" text-anchor="end" textLength="27.00" lengthAdjust="spacingAndGlyphs">800</text>
<text x="72.6" y="616.72" font-size="18" text-anchor="end" textLength="36.00" lengthAdjust="spacingAndGlyphs">1200</text>
<text x="374.5" y="1069.40" font-size="20.4" text-anchor="middle" textLength="134" lengthAdjust="spacing">Axial strain / %</text>
<text transform="translate(20,780.50) rotate(-90)" x="0" y="0" font-size="23" text-anchor="middle" textLength="206" lengthAdjust="spacing">Deviator stress / kPa</text>
<text x="339" y="1124.00" font-size="33.5" text-anchor="middle">(b)</text>
<rect x="82.4" y="1151.6" width="585.2" height="434.5" fill="none" stroke="#000" stroke-width="2.2"/>
<path d="M82.40,1586.1 V1577.60 M155.55,1586.1 V1581.60 M228.70,1586.1 V1577.60 M301.85,1586.1 V1581.60 M375.00,1586.1 V1577.60 M448.15,1586.1 V1581.60 M521.30,1586.1 V1577.60 M594.45,1586.1 V1581.60 M667.60,1586.1 V1577.60 M82.4,1586.10 H90.90 M82.4,1519.25 H86.90 M82.4,1452.41 H90.90 M82.4,1385.56 H86.90 M82.4,1318.72 H90.90 M82.4,1251.87 H86.90 M82.4,1185.02 H90.90" stroke="#000" stroke-width="2.2" fill="none"/>
<text x="82.40" y="1608.80" font-size="17.3" text-anchor="middle" textLength="9.00" lengthAdjust="spacingAndGlyphs">0</text>
<text x="228.70" y="1608.80" font-size="17.3" text-anchor="middle" textLength="9.00" lengthAdjust="spacingAndGlyphs">4</text>
<text x="375.00" y="1608.80" font-size="17.3" text-anchor="middle" textLength="9.00" lengthAdjust="spacingAndGlyphs">8</text>
<text x="521.30" y="1608.80" font-size="17.3" text-anchor="middle" textLength="18.00" lengthAdjust="spacingAndGlyphs">12</text>
<text x="667.60" y="1608.80" font-size="17.3" text-anchor="middle" textLength="18.00" lengthAdjust="spacingAndGlyphs">16</text>
<text x="72.6" y="1591.10" font-size="18" text-anchor="end" textLength="9.00" lengthAdjust="spacingAndGlyphs">0</text>
<text x="72.6" y="1457.41" font-size="18" text-anchor="end" textLength="27.00" lengthAdjust="spacingAndGlyphs">400</text>
<text x="72.6" y="1323.72" font-size="18" text-anchor="end" textLength="27.00" lengthAdjust="spacingAndGlyphs">800</text>
<text x="72.6" y="1190.02" font-size="18" text-anchor="end" textLength="36.00" lengthAdjust="spacingAndGlyphs">1200</text>
<text x="374.5" y="1642.70" font-size="20.4" text-anchor="middle" textLength="134" lengthAdjust="spacing">Axial strain / %</text>
<text transform="translate(20,1353.80) rotate(-90)" x="0" y="0" font-size="23" text-anchor="middle" textLength="206" lengthAdjust="spacing">Deviator stress / kPa</text>
<text x="339" y="1697.30" font-size="33.5" text-anchor="middle">(c)</text>
<path d="M455.10,34.40H471.35M491.15,34.40H507.40" stroke="#808000" stroke-width="2.8" stroke-linecap="round"/>
<use href="#so" x="481.25" y="34.40"/>
<text x="513.60" y="42.00" font-size="23" textLength="146" lengthAdjust="spacing"><tspan font-style="italic">σ</tspan>'=100 kPa CD</text>
<path d="M455.10,63.75H471.35M491.15,63.75H507.40" stroke="#000080" stroke-width="2.8" stroke-linecap="round"/>
<use href="#sb" x="481.25" y="63.75"/>
<text x="513.60" y="71.35" font-size="23" textLength="146" lengthAdjust="spacing"><tspan font-style="italic">σ</tspan>'=200 kPa CD</text>
<path d="M455.10,93.10H471.35M491.15,93.10H507.40" stroke="#800000" stroke-width="2.8" stroke-linecap="round"/>
<use href="#sr" x="481.25" y="93.10"/>
<text x="513.60" y="100.70" font-size="23" textLength="146" lengthAdjust="spacing"><tspan font-style="italic">σ</tspan>'=300 kPa CD</text>
<path d="M101.60,601.30H117.85M137.65,601.30H153.90" stroke="#808000" stroke-width="2.8" stroke-linecap="round"/>
<use href="#so" x="127.75" y="601.30"/>
<text x="159.10" y="608.90" font-size="23" textLength="146" lengthAdjust="spacing"><tspan font-style="italic">σ</tspan>'=100 kPa CD</text>
<path d="M101.60,630.65H117.85M137.65,630.65H153.90" stroke="#000080" stroke-width="2.8" stroke-linecap="round"/>
<use href="#sb" x="127.75" y="630.65"/>
<text x="159.10" y="638.25" font-size="23" textLength="146" lengthAdjust="spacing"><tspan font-style="italic">σ</tspan>'=200 kPa CD</text>
<path d="M101.60,660.00H117.85M137.65,660.00H153.90" stroke="#800000" stroke-width="2.8" stroke-linecap="round"/>
<use href="#sr" x="127.75" y="660.00"/>
<text x="159.10" y="667.60" font-size="23" textLength="146" lengthAdjust="spacing"><tspan font-style="italic">σ</tspan>'=300 kPa CD</text>
<path d="M455.10,1181.00H471.35M491.15,1181.00H507.40" stroke="#808000" stroke-width="2.8" stroke-linecap="round"/>
<use href="#so" x="481.25" y="1181.00"/>
<text x="513.60" y="1188.60" font-size="23" textLength="146" lengthAdjust="spacing"><tspan font-style="italic">σ</tspan>'=100 kPa CD</text>
<path d="M455.10,1210.35H471.35M491.15,1210.35H507.40" stroke="#000080" stroke-width="2.8" stroke-linecap="round"/>
<use href="#sb" x="481.25" y="1210.35"/>
<text x="513.60" y="1217.95" font-size="23" textLength="146" lengthAdjust="spacing"><tspan font-style="italic">σ</tspan>'=200 kPa CD</text>
<path d="M455.10,1239.70H471.35M491.15,1239.70H507.40" stroke="#800000" stroke-width="2.8" stroke-linecap="round"/>
<use href="#sr" x="481.25" y="1239.70"/>
<text x="513.60" y="1247.30" font-size="23" textLength="146" lengthAdjust="spacing"><tspan font-style="italic">σ</tspan>'=300 kPa CD</text>
<text x="132.5" y="42.6" font-size="20.3" textLength="159.5" lengthAdjust="spacing">Peak stress point</text>
<line x1="186.9" y1="52.7" x2="213.86" y2="82.51" stroke="#000" stroke-width="2.2"/>
<path d="M220.90,90.30 L210.37,84.32 L216.01,79.22 Z" fill="#000"/>
<text x="400.6" y="622.6" font-size="20.3" textLength="159.5" lengthAdjust="spacing">Peak stress point</text>
<line x1="444.6" y1="633.3" x2="468.45" y2="652.68" stroke="#000" stroke-width="2.2"/>
<path d="M476.60,659.30 L465.28,655.00 L470.07,649.10 Z" fill="#000"/>
<text x="204.0" y="1496.2" font-size="20.3" textLength="159.5" lengthAdjust="spacing">Peak stress point</text>
<line x1="221.5" y1="1468.6" x2="205.91" y2="1447.89" stroke="#000" stroke-width="2.2"/>
<path d="M199.60,1439.50 L209.55,1446.40 L203.48,1450.97 Z" fill="#000"/>
</svg></body></html>
